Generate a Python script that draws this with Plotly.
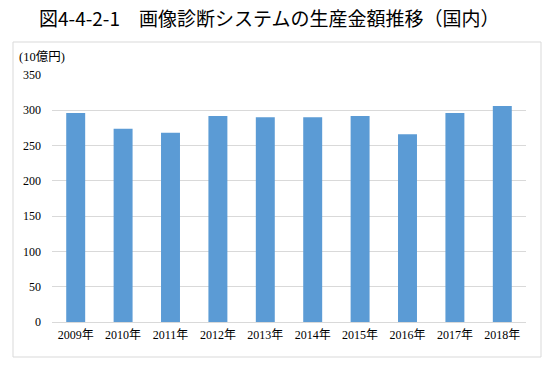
import plotly.graph_objects as go

years = ["2009年", "2010年", "2011年", "2012年", "2013年", "2014年", "2015年", "2016年", "2017年", "2018年"]
values = [296, 274, 268, 292, 290, 290, 292, 266, 296, 306]
y_ticks = [0, 50, 100, 150, 200, 250, 300, 350]
title_text = "図4-4-2-1　画像診断システムの生産金額推移（国内）"
unit_text = "(10億円)"

W, H = 558, 366
PL, PR, PT, PB = 52, 526, 75, 322  # plot area in pixels
L, R, T, B = PL, W - PR, PT, H - PB
pw = W - L - R
ph = H - T - B

def px_x(x):
    return (x - L) / pw

def px_y(y):
    return (H - B - y) / ph

fig = go.Figure()
fig.add_trace(go.Bar(x=years, y=values, marker=dict(color="#5b9bd5", line=dict(width=0)), width=0.4))

serif = "Liberation Serif, Noto Sans CJK JP, serif"
fig.update_layout(
    width=W, height=H,
    margin=dict(l=L, r=R, t=T, b=B),
    paper_bgcolor="white", plot_bgcolor="white",
    showlegend=False,
    xaxis=dict(showgrid=False, showline=False, ticks="", tickfont=dict(family=serif, size=12, color="#000"),
               ticklabelstandoff=4),
    yaxis=dict(range=[0, 350], tickvals=y_ticks, showgrid=True, gridcolor="#d9d9d9", gridwidth=1,
               zeroline=True, zerolinecolor="#d9d9d9", zerolinewidth=1, showline=False, ticks="",
               tickfont=dict(family=serif, size=12, color="#000"), ticklabelstandoff=10),
    shapes=[dict(type="rect", xref="paper", yref="paper",
                 x0=px_x(13), x1=px_x(541), y0=px_y(357), y1=px_y(42),
                 line=dict(color="#d9d9d9", width=1), fillcolor="rgba(0,0,0,0)", layer="below")],
    annotations=[
        dict(text=title_text, xref="paper", yref="paper", x=px_x(269), y=px_y(17),
             xanchor="center", yanchor="middle", showarrow=False,
             font=dict(family="Noto Sans CJK JP", size=19, color="#000")),
        dict(text=unit_text, xref="paper", yref="paper", x=px_x(17), y=px_y(57),
             xanchor="left", yanchor="middle", showarrow=False,
             font=dict(family=serif, size=12.5, color="#000")),
    ],
)

fig.write_html("out.html", config={"displayModeBar": False},
               post_script="document.body.style.margin='0';")
